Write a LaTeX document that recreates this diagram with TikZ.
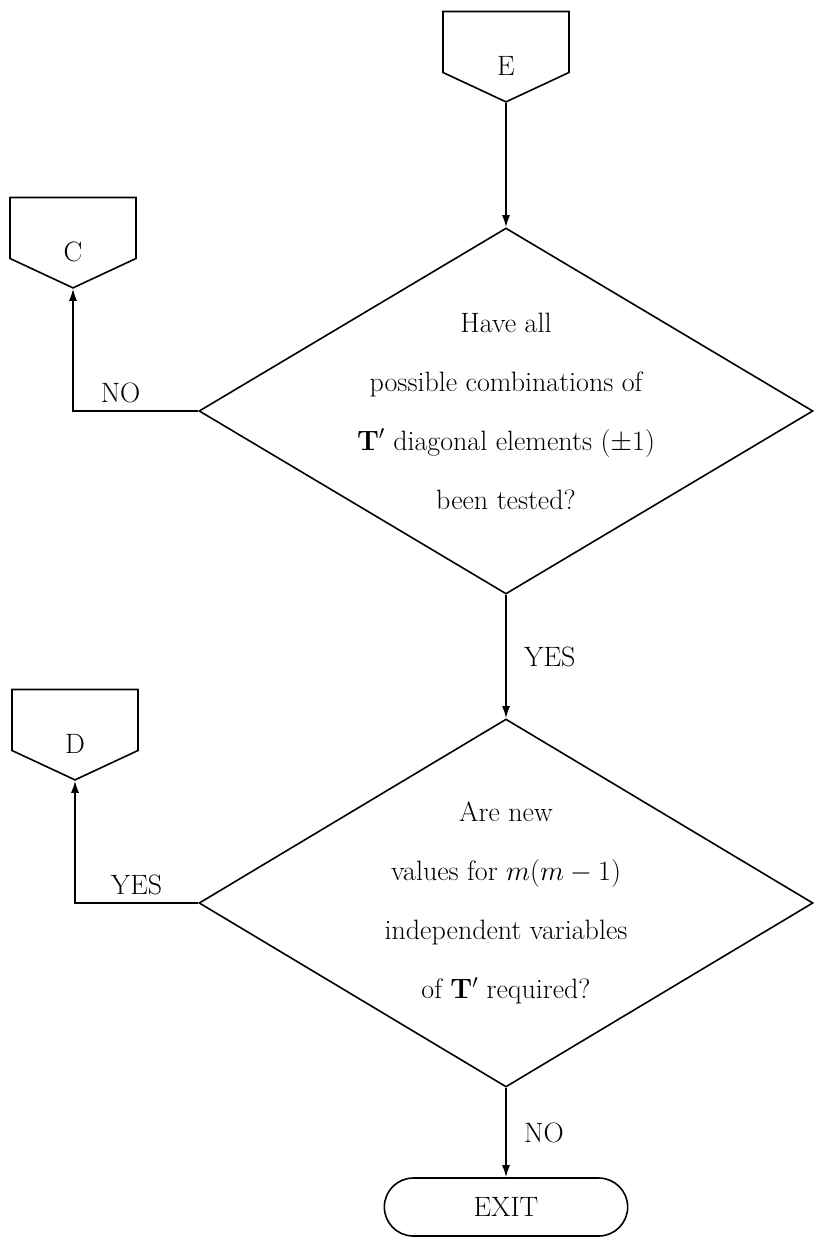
\RequirePackage{fix-cm}
\documentclass[tikz,border=0pt]{standalone}
\usepackage{tikz}
\usetikzlibrary{positioning, arrows.meta, shapes.geometric, shapes.symbols, shapes.misc}
\newcommand{\flowfont}{\fontsize{28}{59}\selectfont}
\tikzset{
    offpage/.style={
        shape=signal,
        signal to=south,
        signal pointer angle=130,
        draw,
        minimum width=126pt,
        minimum height=61pt,
        inner sep=0pt
    },
    decision/.style={
        diamond,
        draw,
        minimum width=614pt,
        minimum height=366pt,
        inner sep=0pt
    },
    question/.style={
        align=center,
        inner sep=0pt
    },
    terminal/.style={
        rounded rectangle,
        draw,
        minimum width=250pt,
        minimum height=58pt
    },
    arrow/.style={
        -{Latex[length=12pt,width=8pt]}
    }
}
\begin{document}
\begin{tikzpicture}[x=1pt, y=-1pt, line width=1.6pt, font=\flowfont]
    \useasboundingbox (0,0) rectangle (813,1238);
    \node[offpage, label={[yshift=-24pt]center:E}] (E) at (506,42) {};
    \node[decision] (test1) at (506,411) {};
    \node[question] (q1) at (test1) {Have all\\possible combinations of\\$\mathbf{T}'$ diagonal elements $(\pm 1)$\\been tested?};
    \node[offpage, label={[yshift=-24pt]center:C}] (C) at (73,228) {};
    \node[decision, minimum height=368pt] (test2) at (506,903) {};
    \node[question] (q2) at (test2) {Are new\\values for $m(m-1)$\\independent variables\\of $\mathbf{T}'$ required?};
    \node[offpage, label={[yshift=-24pt]center:D}] (D) at (75,720) {};
    \node[terminal] (exit) at (506,1207) {EXIT};
    % flow
    \draw[arrow] (E.south) -- (test1.north);
    \draw[arrow] (test1.west) -| node[pos=0.31, above=4pt] {NO} (C.south);
    \draw[arrow] (test1.south) -- node[midway, right=14pt] {YES} (test2.north);
    \draw[arrow] (test2.west) -| node[pos=0.25, above=4pt] {YES} (D.south);
    \draw[arrow] (test2.south) -- node[midway, right=14pt] {NO} (exit.north);
\end{tikzpicture}
\end{document}
